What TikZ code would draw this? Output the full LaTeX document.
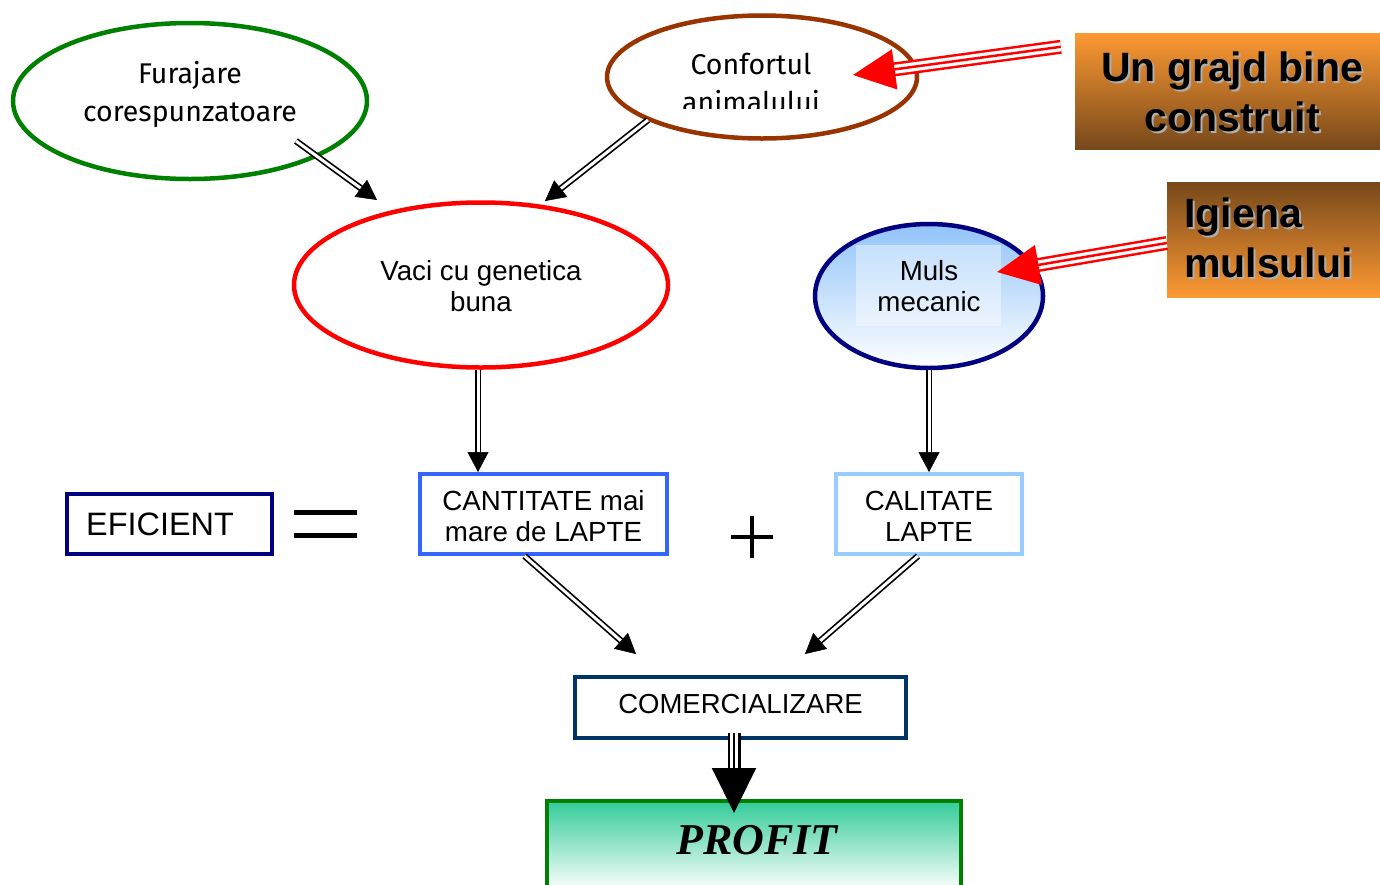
\documentclass[tikz,border=0pt]{standalone}
\usepackage{fontspec}
\setmainfont{Liberation Sans}
\newfontfamily\comicf{Fira Sans}
\newfontfamily\proff{Liberation Serif}
\usetikzlibrary{shapes.geometric,arrows.meta,calc}
\definecolor{grn}{RGB}{0,128,0}
\definecolor{brn}{RGB}{153,51,0}
\definecolor{navyc}{RGB}{0,0,128}
\definecolor{bluc}{RGB}{51,102,255}
\definecolor{lbluc}{RGB}{153,204,255}
\definecolor{dbluc}{RGB}{0,51,102}
\definecolor{orgc}{RGB}{253,153,51}
\definecolor{dbrnc}{RGB}{118,72,26}
\definecolor{tealc}{RGB}{51,204,153}
\definecolor{shadc}{RGB}{175,175,175}
\definecolor{mulsc}{RGB}{145,195,250}
\newcommand\myDbl[2]{%
  \draw[dblshaft, shorten >=16pt] (#1) -- (#2);
  \draw[black, line width=0.5pt, -{Triangle[length=20pt,width=21pt]}] ($(#2)!20pt!(#1)$) -- (#2);}
\newcommand\myRed[2]{%
  \draw[red, line width=14pt, shorten >=36pt] (#1) -- (#2);
  \draw[white, line width=9pt, shorten >=36pt] (#1) -- (#2);
  \draw[red, line width=2.5pt, -{Triangle[length=42pt,width=40pt]}] (#1) -- (#2);}
\begin{document}
\begin{tikzpicture}[x=1pt,y=-1pt,
  dblshaft/.style={black,line width=1.7pt,double=white,double distance=3pt},
  ell/.style={ellipse,draw,line width=4.5pt,inner sep=0pt},
  boxn/.style={rectangle,draw,line width=4pt,inner sep=0pt},
  comictxt/.style={font={\comicf\fontsize{28.5}{38}\selectfont},align=center,inner sep=0pt},
  sanstxt/.style={font={\fontsize{27.7}{31}\selectfont},align=center,inner sep=0pt},
  bigtxt/.style={font={\bfseries\fontsize{41}{50}\selectfont},inner sep=0pt}]
\useasboundingbox (0,0) rectangle (1380,884);
\clip (0,0) rectangle (1380,884);
\fill[white] (0,0) rectangle (1380,884);

% ellipses
\node[ell, draw=grn, minimum width=354, minimum height=156] (fur) at (190,101) {};
\node[comictxt] (furT) at (190,94) {Furajare\\corespunzatoare};
\node[ell, draw=brn, minimum width=310, minimum height=123] (conf) at (762,77) {};
\begin{scope}
\clip (640,40) rectangle (880,108);
\node[comictxt, anchor=north] (confT) at (751,53) {Confortul\\animalului};
\end{scope}
\node[ell, draw=red, minimum width=374, minimum height=165] (vaci) at (481,285) {};
\node[sanstxt] (vaciT) at (481,286) {Vaci cu genetica\\buna};
\node[ell, draw=navyc, top color=mulsc, bottom color=white, minimum width=228, minimum height=144] (muls) at (929,296) {};
\node[fill=white, fill opacity=0.4, minimum width=145, minimum height=81, inner sep=0pt] (mulsR) at (928.5,285.5) {};
\node[sanstxt] (mulsT) at (929,286) {Muls\\mecanic};

% orange boxes
\node[rectangle, top color=orgc, bottom color=dbrnc, minimum width=308, minimum height=116, inner sep=0pt] (grajd) at (1229,91) {};
\node[bigtxt, text=shadc, align=center] at (1234,94) {Un grajd bine\\construit};
\node[bigtxt, align=center] (grajdT) at (1232,92) {Un grajd bine\\construit};
\node[rectangle, top color=dbrnc, bottom color=orgc, minimum width=216, minimum height=115, inner sep=0pt] (igiena) at (1275,239.5) {};
\node[bigtxt, text=shadc, align=left, anchor=west] at (1186,240) {Igiena\\mulsului};
\node[bigtxt, align=left, anchor=west] (igienaT) at (1184,238) {Igiena\\mulsului};

% rectangles
\node[boxn, draw=navyc, minimum width=205, minimum height=60] (efi) at (169.5,524) {};
\node[font={\fontsize{32.4}{32}\selectfont}, anchor=west, inner sep=0pt] (efiT) at (86,524) {EFICIENT};
\node[boxn, draw=bluc, minimum width=247, minimum height=80] (cant) at (543.5,514) {};
\node[sanstxt] (cantT) at (543.5,516) {CANTITATE mai\\mare de LAPTE};
\node[boxn, draw=lbluc, minimum width=186, minimum height=80] (cal) at (929,514) {};
\node[sanstxt] (calT) at (929,516) {CALITATE\\LAPTE};
\node[boxn, draw=dbluc, minimum width=331, minimum height=61] (com) at (740.5,707.5) {};
\node[font={\fontsize{27.5}{31}\selectfont}, inner sep=0pt] (comT) at (740.5,704) {COMERCIALIZARE};
\node[boxn, draw=grn, top color=tealc, bottom color=white, minimum width=414, minimum height=90] (profit) at (754,846) {};
\node[font={\proff\bfseries\itshape\fontsize{44}{44}\selectfont}, inner sep=0pt] (profitT) at (757,840) {PROFIT};

% equal and plus
\draw[line width=5pt] (294,512) -- (357,512) (294,535) -- (357,535);
\draw[line width=4.5pt] (731,537) -- (773,537) (752,516) -- (752,558);

% connector coordinates
\coordinate (a1s) at ($(fur.center)+(106,40)$);
\coordinate (a1e) at ($(vaci.center)+(-104,-85)$);
\coordinate (a2s) at ($(conf.center)+(-114,43)$);
\coordinate (a2e) at ($(vaci.center)+(64,-84)$);
\coordinate (a3s) at ($(vaci.south)+(-3,0)$);
\coordinate (a3e) at ($(cant.north)+(-65.5,0)$);
\coordinate (a4s) at (muls.south);
\coordinate (a4e) at (cal.north);
\coordinate (a5s) at ($(cant.south)+(-19,0)$);
\coordinate (a5e) at ($(com.north)+(-104.5,-21)$);
\coordinate (a6s) at ($(cal.south)+(-11,0)$);
\coordinate (a6e) at ($(com.north)+(64.5,-21)$);
\coordinate (a7s) at ($(com.south)+(-6.5,-7)$);
\coordinate (a7e) at ($(profit.north)+(-20,14)$);
\coordinate (r1s) at ($(grajd.north west)+(-14,14)$);
\coordinate (r1e) at ($(conf.center)+(91,-2)$);
\coordinate (r2s) at ($(igiena.west)+(0,3.5)$);
\coordinate (r2e) at ($(muls.center)+(68,-24)$);

\myDbl{a1s}{a1e}
\myDbl{a2s}{a2e}
\myDbl{a3s}{a3e}
\myDbl{a4s}{a4e}
\myDbl{a5s}{a5e}
\myDbl{a6s}{a6e}

% triple arrow to profit
\draw[black, line width=13pt, shorten >=40pt] (a7s) -- (a7e);
\draw[white, line width=8pt, shorten >=40pt] (a7s) -- (a7e);
\draw[black, line width=2pt, -{Triangle[length=45pt,width=44pt]}] (a7s) -- (a7e);

\myRed{r1s}{r1e}
\myRed{r2s}{r2e}
\end{tikzpicture}
\end{document}
